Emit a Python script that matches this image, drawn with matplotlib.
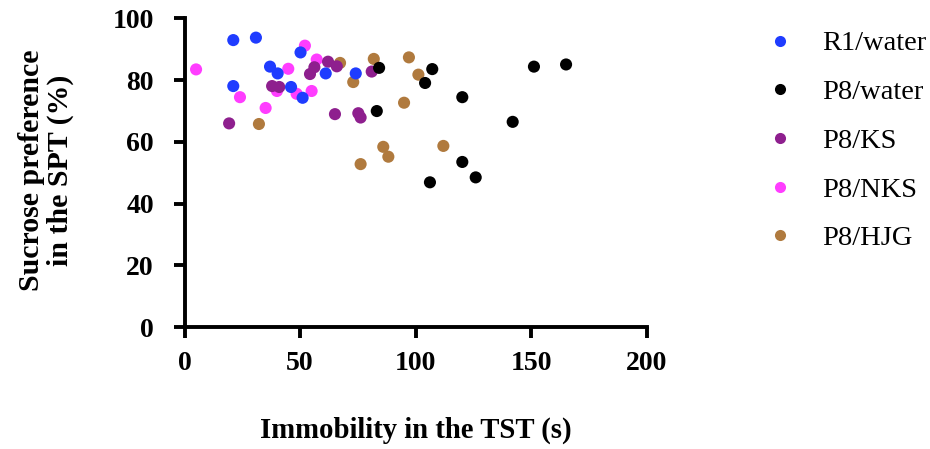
import matplotlib
matplotlib.use("Agg")
import matplotlib.pyplot as plt
from matplotlib.lines import Line2D

# Data (immobility in TST (s), sucrose preference (%))
r1_water_x = [21.1, 30.9, 50.2, 37.0, 40.3, 61.1, 74.1, 21.1, 46.1, 51.1]
r1_water_y = [93.0, 93.8, 89.0, 84.4, 82.2, 82.2, 82.2, 78.1, 77.8, 74.3]

p8_water_x = [84.2, 107.2, 104.1, 120.2, 142.0, 83.2, 120.2, 126.0, 106.2, 151.2, 165.1]
p8_water_y = [84.0, 83.6, 79.1, 74.5, 66.5, 70.0, 53.5, 48.5, 46.9, 84.4, 85.1]

p8_ks_x = [19.3, 37.9, 41.0, 54.3, 56.2, 62.1, 65.9, 65.1, 75.2, 76.2, 81.0]
p8_ks_y = [66.0, 78.1, 77.8, 82.0, 84.2, 86.0, 84.5, 69.0, 69.3, 67.9, 82.8]

p8_nks_x = [5.0, 52.1, 57.2, 44.9, 24.0, 35.1, 48.5, 55.0, 40.0]
p8_nks_y = [83.5, 91.2, 86.7, 83.7, 74.5, 71.0, 75.6, 76.5, 76.5]

p8_hjg_x = [32.2, 67.3, 73.0, 81.9, 97.1, 101.2, 95.0, 86.0, 88.2, 76.2, 112.0]
p8_hjg_y = [65.8, 85.6, 79.4, 86.9, 87.4, 81.8, 72.7, 58.4, 55.2, 52.8, 58.7]

labels = ["R1/water", "P8/water", "P8/KS", "P8/NKS", "P8/HJG"]
colors = ["#1f3cff", "#000000", "#8e1f8e", "#ff3dff", "#b07a3e"]
xticks = [0, 50, 100, 150, 200]
yticks = [0, 20, 40, 60, 80, 100]

series = [(r1_water_x, r1_water_y), (p8_water_x, p8_water_y), (p8_ks_x, p8_ks_y),
          (p8_nks_x, p8_nks_y), (p8_hjg_x, p8_hjg_y)]

plt.rcParams['font.family'] = ['Liberation Serif', 'DejaVu Serif']

fig = plt.figure(figsize=(9.3, 4.49), dpi=100)
ax = fig.add_axes([0.1984, 0.2717, 0.497, 0.6871])

# draw in reverse order so R1/water is on top
for i in reversed(range(len(series))):
    x, y = series[i]
    ax.scatter(x, y, s=76, color=colors[i], edgecolors='none', zorder=3 + (len(series) - i))

ax.set_xlim(0, 200)
ax.set_ylim(0, 100)
ax.set_xticks(xticks)
ax.set_yticks(yticks)
ax.set_xticklabels([str(t) for t in xticks], fontsize=20, fontweight='bold')
ax.set_yticklabels([str(t) for t in yticks], fontsize=20, fontweight='bold')
for s in ['top', 'right']:
    ax.spines[s].set_visible(False)
for s in ['left', 'bottom']:
    ax.spines[s].set_linewidth(2.8)
ax.tick_params(axis='both', direction='out', length=8, width=2.8)
ax.tick_params(axis='y', pad=14)
ax.tick_params(axis='x', pad=9)

fig.text(416 / 930, 1 - 430 / 449, "Immobility in the TST (s)", fontsize=20.7,
         fontweight='bold', ha='center', va='center')
fig.text(46 / 930, 1 - 170 / 449, "Sucrose preference\nin the SPT (%)", fontsize=21.5,
         fontweight='bold', ha='center', va='center', rotation=90, multialignment='center',
         linespacing=1.08)

handles = [Line2D([0], [0], marker='o', linestyle='none', markersize=8,
                  markerfacecolor=c, markeredgecolor='none') for c in colors]
fig.legend(handles, labels, loc='upper left', bbox_to_anchor=(0.7957, 0.989),
           frameon=False, fontsize=20.5, labelspacing=0.8, handletextpad=0.98,
           handlelength=1.0)

fig.savefig("out.png", dpi=100)
